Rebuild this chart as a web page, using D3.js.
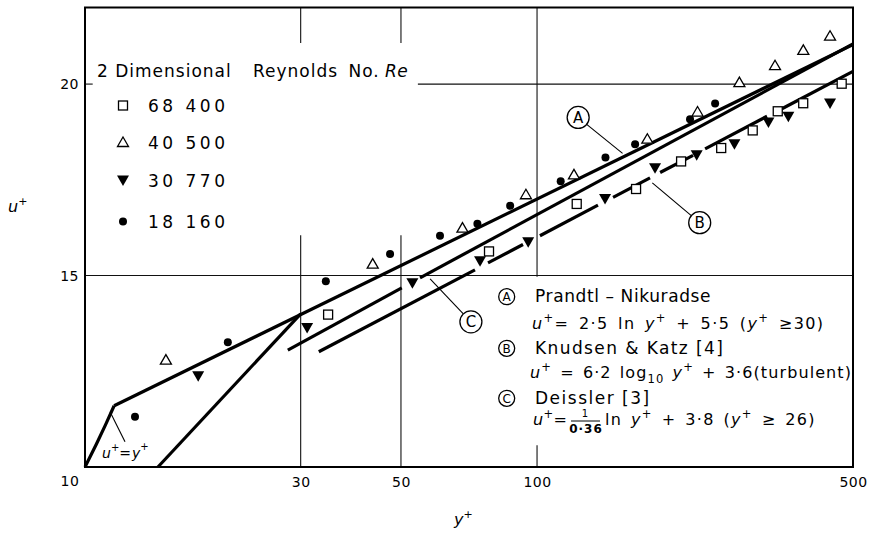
<!DOCTYPE html>
<html>
<head>
<meta charset="utf-8">
<script src="https://cdn.jsdelivr.net/npm/d3@7/dist/d3.min.js"></script>
<style>
    html, body { margin: 0; padding: 0; background: #fff; }
    svg { display: block; font-family: "DejaVu Sans", sans-serif; }
</style>
</head>
<body>
<svg id="chart" width="875" height="535"></svg>
<script>
// ---- data ----
var x_ticks = [30, 50, 100, 500];
var y_ticks = [15, 20];
var series_names = ["68 400", "40 500", "30 770", "18 160"];

// [y+, u+]
var re_68400 = [[34.5, 13.98], [78.3, 15.63], [122.4, 16.87], [165.6, 17.26], [208.3, 17.98],
    [255.5, 18.33], [300, 18.79], [340.8, 19.29], [388, 19.5], [472, 20.01]];
var re_40500 = [[15.1, 12.79], [43.3, 15.3], [68.4, 16.24], [94.5, 17.11], [120.7, 17.63],
    [175.4, 18.56], [226.5, 19.27], [280.3, 20.04], [336.1, 20.48], [388.2, 20.88], [444.8, 21.25]];
var re_30770 = [[17.8, 12.37], [31.0, 13.63], [53.0, 14.8], [74.8, 15.37], [95.6, 15.87],
    [141.4, 17.0], [182.4, 17.8], [225.5, 18.14], [273.3, 18.43], [325, 19.0], [359.7, 19.15], [444.8, 19.49]];
var re_18160 = [[12.9, 11.31], [20.7, 13.26], [34.1, 14.85], [47.3, 15.56], [61.0, 16.04],
    [73.8, 16.35], [87.2, 16.82], [112.8, 17.46], [141.7, 18.08], [164.8, 18.43], [218, 19.08], [247.7, 19.49]];

// curves
var line_viscous = [[10, 10], [10.6, 10.6], [11.1, 11.1], [11.6, 11.6]];       // u+ = y+
var line_buffer = [[14.5, 10], [30, 14.0]];
var line_a = [[11.6, 11.6], [500, 21.03]];                                       // Prandtl-Nikuradse
var line_c = [[[28.1, 13.05], [50.2, 14.68]], [[55.1, 14.94], [500, 21.05]]];    // Deissler
var line_b = [[[32.9, 13.01], [72.9, 15.15]], [[77.9, 15.33], [93.1, 15.81]],   // Knudsen & Katz
    [[101.5, 16.04], [136.4, 16.84]], [[147.3, 17.04], [177.8, 17.55]],
    [[187.2, 17.69], [221.4, 18.14]], [[235.4, 18.31], [322.7, 19.16]],
    [[344.8, 19.33], [500, 20.33]]];

// grid pieces (broken where the legend and the notes sit)
var grid_v = [[30, 10, 16.05], [30, 21.07, 22], [50, 10, 16.05], [50, 21.07, 22], [100, 10, 10.57], [100, 14.97, 22]];
var grid_h = [[15, 10, 500], [20, 10, 10.4], [20, 54.5, 500]];

// callouts: [label, circle y+, circle u+, leader end y+, leader end u+]
var callouts = [["A", 123.3, 19.13, 154.6, 18.19], ["B", 229, 16.38, 179.9, 17.42], ["C", 71.4, 13.79, 58.0, 14.91]];

// ---- layout ----
var svg = d3.select("#chart");

var x = d3.scaleLog().domain([10, 500]).range([85, 853]);
var y = d3.scaleLinear().domain([10, 22]).range([467, 7.5]);

var line = d3.line().x(function(d) { return x(d[0]); }).y(function(d) { return y(d[1]); });

// grid
var grid_layout = svg.append("g").attr("class", "grid")
    .attr("stroke", "#111").attr("stroke-width", 1.1);
grid_layout.selectAll(".gv").data(grid_v).enter().append("line")
    .attr("x1", function(d) { return x(d[0]); }).attr("x2", function(d) { return x(d[0]); })
    .attr("y1", function(d) { return y(d[1]); }).attr("y2", function(d) { return y(d[2]); });
grid_layout.selectAll(".gh").data(grid_h).enter().append("line")
    .attr("y1", function(d) { return y(d[0]); }).attr("y2", function(d) { return y(d[0]); })
    .attr("x1", function(d) { return x(d[1]); }).attr("x2", function(d) { return x(d[2]); });

// frame
svg.append("rect")
    .attr("x", x(10)).attr("y", y(22))
    .attr("width", x(500) - x(10)).attr("height", y(10) - y(22))
    .attr("fill", "none").attr("stroke", "#000").attr("stroke-width", 2);

// axes (labels only)
var x_axis = svg.append("g")
    .attr("transform", "translate(0," + y(10) + ")")
    .call(d3.axisBottom(x).tickValues(x_ticks).tickFormat(d3.format("d")).tickSize(0).tickPadding(10));
var y_axis = svg.append("g")
    .attr("transform", "translate(" + x(10) + ",0)")
    .call(d3.axisLeft(y).tickValues(y_ticks).tickSize(0).tickPadding(6));
svg.selectAll(".domain").remove();
svg.selectAll(".tick text")
    .attr("font-family", "DejaVu Sans").attr("font-size", 14).attr("fill", "#000").attr("letter-spacing", 0.5);
svg.append("text").attr("x", x(10) - 15).attr("y", y(10) + 19)
    .attr("text-anchor", "middle").attr("font-size", 14).attr("letter-spacing", 0.5).text("10");

// axis titles
var u_title = svg.append("text").attr("x", 8).attr("y", 212).attr("font-size", 16);
u_title.append("tspan").attr("font-style", "italic").text("u");
u_title.append("tspan").attr("font-size", 11).attr("dy", -7).text("+");
var y_title = svg.append("text").attr("x", 454).attr("y", 525).attr("font-size", 16);
y_title.append("tspan").attr("font-style", "italic").text("y");
y_title.append("tspan").attr("font-size", 11).attr("dy", -7).text("+");

// curves
var curve_layout = svg.append("g").attr("fill", "none").attr("stroke", "#000")
    .attr("stroke-width", 3.2).attr("stroke-linecap", "butt");
[line_viscous, line_buffer, line_a].forEach(function(pts) {
    curve_layout.append("path").attr("d", line(pts));
});
line_c.concat(line_b).forEach(function(pts) {
    curve_layout.append("path").attr("d", line(pts));
});

// markers
function draw_marker(g, kind, cx, cy) {
    if (kind === 0) {
        g.append("rect").attr("x", cx - 4.5).attr("y", cy - 4.5).attr("width", 9).attr("height", 9)
            .attr("fill", "#fff").attr("stroke", "#000").attr("stroke-width", 1.3);
    } else if (kind === 1) {
        g.append("path").attr("d", "M" + cx + "," + (cy - 5.5) + "L" + (cx + 5.5) + "," + (cy + 4) + "L" + (cx - 5.5) + "," + (cy + 4) + "Z")
            .attr("fill", "#fff").attr("stroke", "#000").attr("stroke-width", 1.3);
    } else if (kind === 2) {
        g.append("path").attr("d", "M" + (cx - 6) + "," + (cy - 5) + "L" + (cx + 6) + "," + (cy - 5) + "L" + cx + "," + (cy + 5.5) + "Z")
            .attr("fill", "#000");
    } else {
        g.append("circle").attr("cx", cx).attr("cy", cy).attr("r", 4).attr("fill", "#000");
    }
}

var marker_layout = svg.append("g").attr("class", "markers");
[re_68400, re_40500, re_30770, re_18160].forEach(function(series, k) {
    series.forEach(function(d) { draw_marker(marker_layout, k, x(d[0]), y(d[1])); });
});

// legend
var legend = svg.append("g").attr("class", "legend").attr("font-size", 17);
legend.append("text").attr("x", 97).attr("y", 77).attr("letter-spacing", 1).text("2 Dimensional");
legend.append("text").attr("x", 253).attr("y", 77).attr("letter-spacing", 1).attr("word-spacing", 4).text("Reynolds No.");
legend.append("text").attr("x", 385).attr("y", 77).attr("font-style", "italic").attr("letter-spacing", 0.5).text("Re");
var legend_y = [112, 149, 187, 228];
series_names.forEach(function(name, k) {
    draw_marker(legend, k, 123, legend_y[k] - 6.5);
    legend.append("text").attr("x", 148).attr("y", legend_y[k]).attr("letter-spacing", 3.5).text(name);
});

// callouts
var callout_layout = svg.append("g").attr("class", "callouts");
callouts.forEach(function(c) {
    var cx = x(c[1]), cy = y(c[2]), ex = x(c[3]), ey = y(c[4]);
    var len = Math.hypot(ex - cx, ey - cy), r = 11;
    callout_layout.append("line")
        .attr("x1", cx + (ex - cx) * r / len).attr("y1", cy + (ey - cy) * r / len)
        .attr("x2", ex).attr("y2", ey).attr("stroke", "#000").attr("stroke-width", 1.1);
    callout_layout.append("circle").attr("cx", cx).attr("cy", cy).attr("r", r)
        .attr("fill", "#fff").attr("stroke", "#000").attr("stroke-width", 1.3);
    callout_layout.append("text").attr("x", cx).attr("y", cy + 5.5).attr("text-anchor", "middle")
        .attr("font-size", 15).text(c[0]);
});

// u+ = y+ note
svg.append("line").attr("x1", x(11.36)).attr("y1", y(11.44)).attr("x2", x(12.26)).attr("y2", y(10.66))
    .attr("stroke", "#000").attr("stroke-width", 1.1);
var uy = svg.append("text").attr("x", 102).attr("y", 458).attr("font-size", 14);
uy.append("tspan").attr("font-style", "italic").text("u");
uy.append("tspan").attr("font-size", 10).attr("dy", -7).text("+");
uy.append("tspan").attr("dy", 7).text("=");
uy.append("tspan").attr("font-style", "italic").attr("dx", 1).text("y");
uy.append("tspan").attr("font-size", 10).attr("dy", -8).text("+");

// notes box
function rich(parent, px, py, parts, size, spacing, words) {
    var t = parent.append("text").attr("x", px).attr("y", py).attr("font-size", size)
        .attr("letter-spacing", spacing).attr("word-spacing", words);
    var shift = 0;
    parts.forEach(function(p) {
        var target = p[1] === "sup" ? -7 : (p[1] === "sub" ? 5 : 0);
        var s = t.append("tspan").attr("dy", target - shift).text(p[0]);
        if (p[1] === "i") s.attr("font-style", "italic");
        if (p[1] === "sup" || p[1] === "sub") s.attr("font-size", size * 0.72);
        shift = target;
    });
    return t;
}

var notes = svg.append("g").attr("class", "notes");
var note_rows = [["A", 296.7], ["B", 348.3], ["C", 398.3]];
note_rows.forEach(function(r) {
    notes.append("circle").attr("cx", 506.7).attr("cy", r[1]).attr("r", 8)
        .attr("fill", "none").attr("stroke", "#000").attr("stroke-width", 1.3);
    notes.append("text").attr("x", 506.7).attr("y", r[1] + 4.5).attr("text-anchor", "middle")
        .attr("font-size", 12).text(r[0]);
});
notes.append("text").attr("x", 535).attr("y", 302).attr("font-size", 17).attr("letter-spacing", 0.6)
    .text("Prandtl \u2013 Nikuradse");
notes.append("text").attr("x", 535).attr("y", 354).attr("font-size", 17).attr("letter-spacing", 1.4)
    .text("Knudsen & Katz  [4]");
notes.append("text").attr("x", 535).attr("y", 404).attr("font-size", 17).attr("letter-spacing", 1.5)
    .text("Deissler [3]");

rich(notes, 532, 329, [["u", "i"], ["+", "sup"], ["= 2\u00b75 ln  ", ""], ["y", "i"], ["+", "sup"],
    [" +  5\u00b75 (", ""], ["y", "i"], ["+", "sup"], [" \u226530)", ""]], 16, 1.4, 3);
rich(notes, 530, 378, [["u", "i"], ["+", "sup"], [" = 6\u00b72  log", ""], ["10", "sub"], [" ", ""],
    ["y", "i"], ["+", "sup"], [" + 3\u00b76(turbulent)", ""]], 16, 1.1, 2);
rich(notes, 533, 425, [["u", "i"], ["+", "sup"], ["=", ""]], 16, 0.3, 0);
notes.append("text").attr("x", 585).attr("y", 417).attr("font-size", 10).attr("text-anchor", "middle").text("1");
notes.append("line").attr("x1", 571).attr("x2", 600).attr("y1", 421).attr("y2", 421)
    .attr("stroke", "#000").attr("stroke-width", 1);
notes.append("text").attr("x", 586).attr("y", 433).attr("font-size", 12).attr("text-anchor", "middle")
    .attr("font-weight", "bold").attr("letter-spacing", 1).text("0\u00b736");
rich(notes, 605, 425, [["ln  ", ""], ["y", "i"], ["+", "sup"], [" + 3\u00b78 (", ""], ["y", "i"], ["+", "sup"],
    [" \u2265 26)", ""]], 16, 1.3, 2.5);
</script>
</body>
</html>
